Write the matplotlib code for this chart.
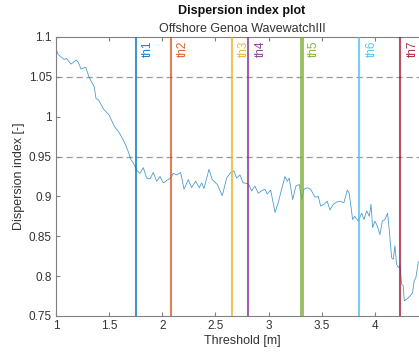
import matplotlib
matplotlib.use('Agg')
import matplotlib.pyplot as plt

plt.rcParams['font.family'] = ['Liberation Sans', 'DejaVu Sans']

# Dispersion index vs threshold
threshold = [1.00, 1.02, 1.047, 1.075, 1.10, 1.14, 1.19, 1.21, 1.235, 1.28, 1.31, 1.36,
             1.376, 1.40, 1.45, 1.50, 1.55, 1.59, 1.64, 1.68, 1.705, 1.727, 1.759,
             1.79, 1.821, 1.853, 1.884, 1.915, 1.947, 1.978, 2.009, 2.041, 2.078,
             2.103, 2.135, 2.172, 2.204, 2.244, 2.276, 2.313, 2.348, 2.37, 2.392,
             2.439, 2.47, 2.517, 2.564, 2.605, 2.643, 2.674, 2.699, 2.73, 2.761,
             2.808, 2.84, 2.871, 2.902, 2.934, 2.965, 2.987, 3.019, 3.06, 3.09,
             3.122, 3.154, 3.175, 3.194, 3.226, 3.257, 3.288, 3.311, 3.332, 3.364,
             3.395, 3.436, 3.467, 3.489, 3.52, 3.551, 3.577, 3.608, 3.64, 3.67,
             3.708, 3.74, 3.758, 3.79, 3.81, 3.843, 3.875, 3.897, 3.922, 3.947,
             3.963, 3.978, 4.0, 4.022, 4.047, 4.069, 4.094, 4.119, 4.134, 4.157,
             4.172, 4.188, 4.203, 4.219, 4.235, 4.251, 4.266, 4.276, 4.298, 4.329,
             4.354, 4.369, 4.385, 4.407, 4.43]
disp_index = [1.085, 1.078, 1.075, 1.072, 1.073, 1.066, 1.071, 1.068, 1.06, 1.062, 1.05, 1.037,
              1.023, 1.021, 1.009, 1.002, 0.9875, 0.981, 0.969, 0.956, 0.946, 0.942, 0.933,
              0.929, 0.936, 0.923, 0.922, 0.930, 0.919, 0.925, 0.917, 0.920, 0.923,
              0.929, 0.927, 0.930, 0.909, 0.921, 0.911, 0.919, 0.911, 0.917, 0.910,
              0.934, 0.921, 0.915, 0.901, 0.923, 0.930, 0.932, 0.923, 0.927, 0.917,
              0.916, 0.907, 0.913, 0.904, 0.907, 0.909, 0.903, 0.908, 0.880, 0.892,
              0.909, 0.925, 0.919, 0.923, 0.896, 0.913, 0.915, 0.896, 0.909, 0.911,
              0.909, 0.899, 0.900, 0.888, 0.890, 0.894, 0.883, 0.890, 0.893, 0.894,
              0.892, 0.908, 0.904, 0.871, 0.875, 0.869, 0.879, 0.871, 0.882, 0.875,
              0.890, 0.861, 0.869, 0.863, 0.852, 0.869, 0.871, 0.879, 0.859, 0.823,
              0.821, 0.838, 0.815, 0.811, 0.813, 0.790, 0.788, 0.769, 0.771, 0.775,
              0.779, 0.794, 0.798, 0.817, 0.822]

# Threshold markers
th_names = ['th1', 'th2', 'th3', 'th4', 'th5', 'th6', 'th7']
th_values = [1.75, 2.08, 2.655, 2.806, 3.31, 3.85, 4.24]
th_colors = ['#0072BD', '#D95319', '#EDB120', '#7E2F8E', '#77AC30', '#4DBEEE', '#A2142F']
th_widths = [1.5, 1.5, 1.5, 1.5, 2.8, 1.5, 1.5]

ref_levels = [1.05, 0.95]

fig = plt.figure(figsize=(4.19, 3.56), dpi=100)
ax = fig.add_axes([0.1337, 0.1124, 0.888, 0.7837])

for lvl in ref_levels:
    ax.axhline(lvl, color='#999999', linestyle=(0, (5, 3)), linewidth=0.9, zorder=1)

ax.plot(threshold, disp_index, color='#0072BD', linewidth=0.6, alpha=0.7, zorder=2)

for name, val, col, lw in zip(th_names, th_values, th_colors, th_widths):
    ax.axvline(val, color=col, linewidth=lw, alpha=0.75, zorder=3)
    ax.text(val + 0.06, 1.095, name, color=col, rotation=90, ha='left', va='top',
            fontsize=8.5, alpha=0.9)

ax.set_xlim(1, 4.5)
ax.set_ylim(0.75, 1.1)
ax.set_xticks([1, 1.5, 2, 2.5, 3, 3.5, 4])
ax.set_xticklabels(['1', '1.5', '2', '2.5', '3', '3.5', '4'])
ax.set_yticks([0.75, 0.8, 0.85, 0.9, 0.95, 1, 1.05, 1.1])
ax.set_yticklabels(['0.75', '0.8', '0.85', '0.9', '0.95', '1', '1.05', '1.1'])

for sp in ax.spines.values():
    sp.set_color('#808080')
    sp.set_linewidth(0.8)
ax.tick_params(direction='in', top=True, right=True, length=3, width=0.8,
               color='#808080', labelcolor='#333333', labelsize=8.5, pad=3)

ax.set_xlabel('Threshold [m]', fontsize=9, color='#333333', labelpad=2)
ax.set_ylabel('Dispersion index [-]', fontsize=9, color='#333333', labelpad=3)

fig.text(0.5776, 0.968, 'Dispersion index plot', ha='center', va='center',
         fontsize=9, fontweight='bold', color='#111111')
fig.text(0.5776, 0.918, 'Offshore Genoa WavewatchIII', ha='center', va='center',
         fontsize=9, color='#333333')

fig.savefig('out.png', dpi=100)
